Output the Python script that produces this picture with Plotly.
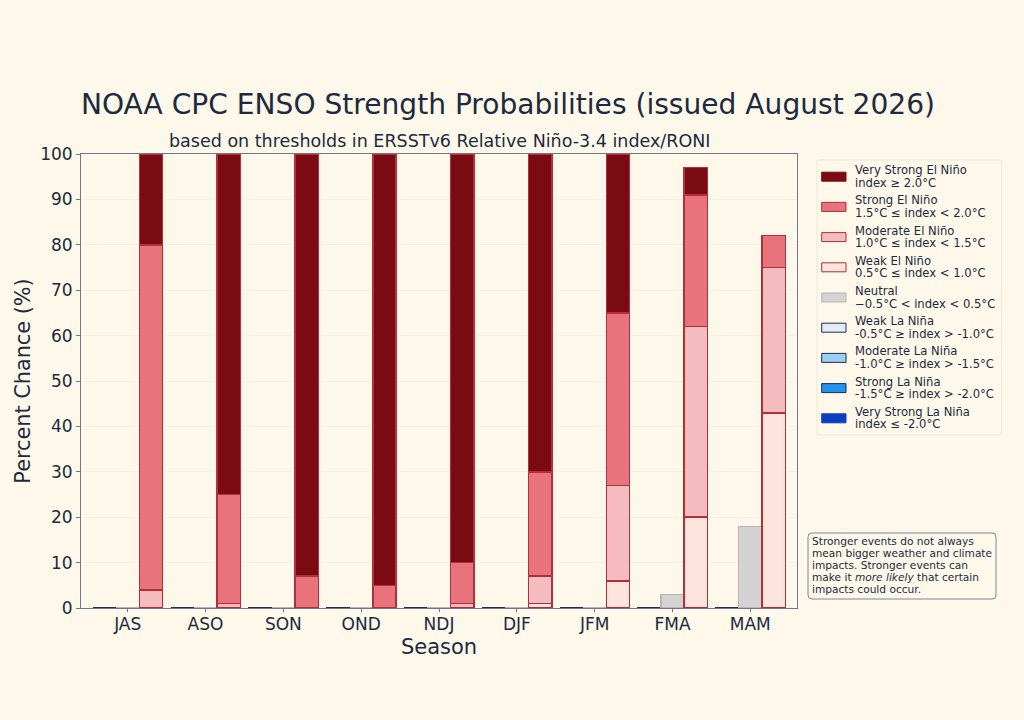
import plotly.graph_objects as go

seasons = ["JAS", "ASO", "SON", "OND", "NDJ", "DJF", "JFM", "FMA", "MAM"]

very_strong_nina = [0, 0, 0, 0, 0, 0, 0, 0, 0]
strong_nina = [0, 0, 0, 0, 0, 0, 0, 0, 0]
moderate_nina = [0, 0, 0, 0, 0, 0, 0, 0, 0]
weak_nina = [0, 0, 0, 0, 0, 0, 0, 0, 0]
neutral = [0, 0, 0, 0, 0, 0, 0, 3, 18]
weak_nino = [0, 0, 0, 0, 0, 1, 6, 20, 43]
moderate_nino = [4, 1, 0, 0, 1, 6, 21, 42, 32]
strong_nino = [76, 24, 7, 5, 9, 23, 38, 29, 7]
very_strong_nino = [20, 75, 93, 95, 90, 70, 35, 6, 0]

note_lines = [
    "Stronger events do not always",
    "mean bigger weather and climate",
    "impacts. Stronger events can",
    "make it <i>more likely</i> that certain",
    "impacts could occur.",
]

BG = "#fdf8ea"
INK = "#1b2a3d"
AXIS = "#6f7790"
BAR_W = 0.3
RED_EDGE = "#ae3038"
BLUE_EDGE = "#1d2f4d"

# plot area in page pixels
LEFT, RIGHT, TOP, BOTTOM = 81, 797, 154, 608

# name, fill, edge, second label line
categories = [
    ("Very Strong El Niño", "#7b0b12", "#b5303a", "index ≥ 2.0°C"),
    ("Strong El Niño", "#e8737c", RED_EDGE, "1.5°C ≤ index < 2.0°C"),
    ("Moderate El Niño", "#f5bcc0", RED_EDGE, "1.0°C ≤ index < 1.5°C"),
    ("Weak El Niño", "#fde5de", RED_EDGE, "0.5°C ≤ index < 1.0°C"),
    ("Neutral", "#d3d3d3", "#b5b5b5", "−0.5°C < index < 0.5°C"),
    ("Weak La Niña", "#e3ebf5", BLUE_EDGE, "-0.5°C ≥ index > -1.0°C"),
    ("Moderate La Niña", "#9ccdf3", BLUE_EDGE, "-1.0°C ≥ index > -1.5°C"),
    ("Strong La Niña", "#2394ee", BLUE_EDGE, "-1.5°C ≥ index > -2.0°C"),
    ("Very Strong La Niña", "#0a3fc4", "#0a3fc4", "index ≤ -2.0°C"),
]


def px_x(x):
    return (x - LEFT) / (RIGHT - LEFT)


def px_y(y):
    return (BOTTOM - y) / (BOTTOM - TOP)


def page_text(text, x, y, size, xanchor="left"):
    return dict(text=text, xref="paper", yref="paper", x=px_x(x), y=px_y(y),
                xanchor=xanchor, yanchor="middle", align="left", showarrow=False,
                font=dict(family="DejaVu Sans", size=size, color=INK))


def rounded_box(x0, x1, y0, y1, r, edge):
    # y0 is the top edge in page pixels
    path = (f"M{px_x(x0 + r)},{px_y(y0)} L{px_x(x1 - r)},{px_y(y0)} "
            f"Q{px_x(x1)},{px_y(y0)} {px_x(x1)},{px_y(y0 + r)} "
            f"L{px_x(x1)},{px_y(y1 - r)} Q{px_x(x1)},{px_y(y1)} {px_x(x1 - r)},{px_y(y1)} "
            f"L{px_x(x0 + r)},{px_y(y1)} Q{px_x(x0)},{px_y(y1)} {px_x(x0)},{px_y(y1 - r)} "
            f"L{px_x(x0)},{px_y(y0 + r)} Q{px_x(x0)},{px_y(y0)} {px_x(x0 + r)},{px_y(y0)} Z")
    return dict(type="path", path=path, xref="paper", yref="paper",
                fillcolor=BG, line=dict(color=edge, width=1))


def add_stack(fig, values, idx, offset, line_width=1.5):
    name, fill, edge, _ = categories[idx]
    fig.add_trace(go.Bar(
        x=[i + offset for i in range(len(seasons))],
        y=values,
        width=BAR_W,
        name=name,
        marker=dict(color=fill, line=dict(color=edge, width=line_width)),
        showlegend=False,
    ))


fig = go.Figure()

# la nina stack sits left of the tick, neutral on it, el nino to the right
for idx, values in [(8, very_strong_nina), (7, strong_nina), (6, moderate_nina), (5, weak_nina)]:
    add_stack(fig, values, idx, -BAR_W, line_width=2)
add_stack(fig, neutral, 4, 0)
for idx, values in [(3, weak_nino), (2, moderate_nino), (1, strong_nino), (0, very_strong_nino)]:
    add_stack(fig, values, idx, BAR_W)

shapes = []
annotations = []

# legend drawn by hand, plotly swatches can't be this wide
shapes.append(rounded_box(817, 1001.5, 160, 435, 2, "#ece7da"))

for n, (name, fill, edge, rng) in enumerate(categories):
    yc = 176.7 + n * 30.2
    shapes.append(dict(type="rect", xref="paper", yref="paper",
                       x0=px_x(821.7), x1=px_x(846),
                       y0=px_y(yc + 4.5), y1=px_y(yc - 4.5),
                       fillcolor=fill, line=dict(color=edge if edge != "#b5303a" else fill, width=1)))
    annotations.append(page_text(name, 853, yc - 6.5, 11.6))
    annotations.append(page_text(rng, 853, yc + 6.2, 11.6))

shapes.append(rounded_box(808, 996, 533, 599, 4, "#7d8699"))
for n, line in enumerate(note_lines):
    annotations.append(page_text(line, 810.3, 541 + n * 12, 10.6))

annotations.append(page_text("based on thresholds in ERSSTv6 Relative Niño-3.4 index/RONI",
                             439, 141, 17.5, xanchor="center"))

fig.update_layout(
    barmode="stack",
    width=1024,
    height=720,
    autosize=False,
    paper_bgcolor=BG,
    plot_bgcolor=BG,
    font=dict(family="DejaVu Sans", color=INK),
    title=dict(text="NOAA CPC ENSO Strength Probabilities (issued August 2026)",
               x=508 / 1024, xanchor="center", y=1 - 104 / 720, yanchor="middle",
               font=dict(family="DejaVu Sans", size=28.1, color=INK)),
    margin=dict(l=LEFT, r=1024 - RIGHT, t=TOP, b=720 - BOTTOM),
    xaxis=dict(
        range=[-0.6, 8.6],
        tickmode="array",
        tickvals=list(range(len(seasons))),
        ticktext=seasons,
        ticks="outside",
        ticklen=3,
        tickcolor=AXIS,
        tickfont=dict(size=17),
        ticklabelstandoff=-2,
        title=dict(text="Season", font=dict(size=21), standoff=5),
        showgrid=False,
        showline=True,
        mirror=True,
        linecolor=AXIS,
        zeroline=False,
    ),
    yaxis=dict(
        range=[0, 100],
        tick0=0,
        dtick=10,
        ticks="outside",
        ticklen=4,
        tickcolor=AXIS,
        tickfont=dict(size=17),
        title=dict(text="Percent Chance (%)", font=dict(size=20.8), standoff=3),
        gridcolor="#f5f0e1",
        showline=True,
        mirror=True,
        linecolor=AXIS,
        zeroline=False,
    ),
    shapes=shapes,
    annotations=annotations,
)

# no page margin so the figure fills the window
fig.write_html("out.html", config={"displayModeBar": False},
               post_script=f"document.body.style.margin='0';document.body.style.background='{BG}';")
